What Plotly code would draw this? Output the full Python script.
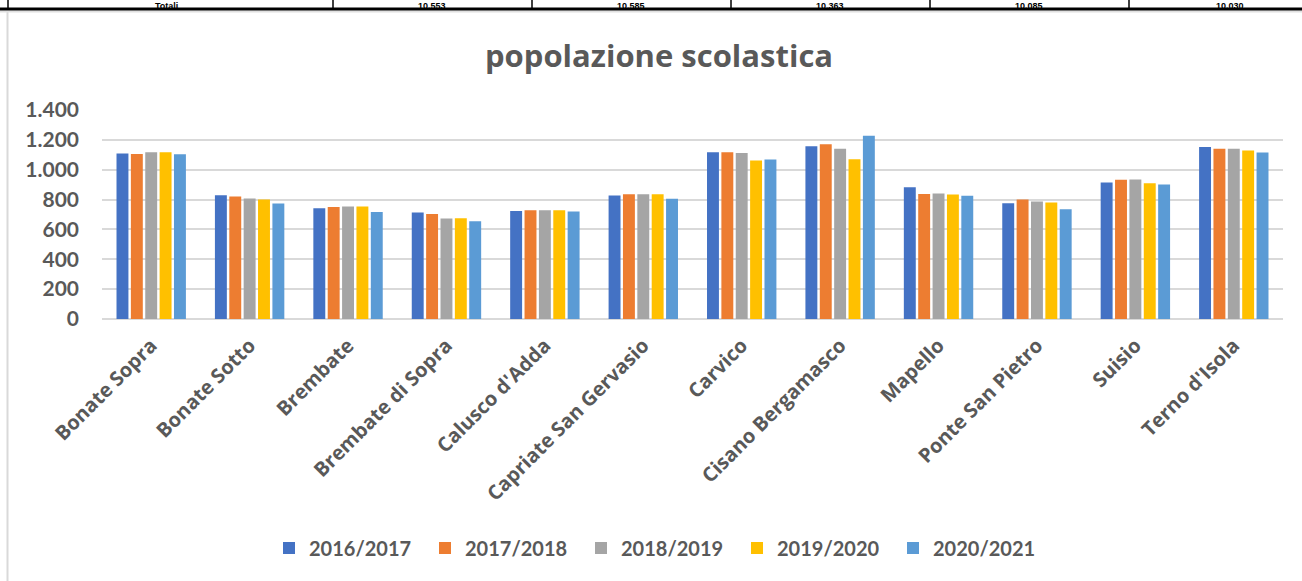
import plotly.graph_objects as go

# ---------------- data ----------------
comuni = ["Bonate Sopra", "Bonate Sotto", "Brembate", "Brembate di Sopra",
          "Calusco d'Adda", "Capriate San Gervasio", "Carvico", "Cisano Bergamasco",
          "Mapello", "Ponte San Pietro", "Suisio", "Terno d'Isola"]
anni = ["2016/2017", "2017/2018", "2018/2019", "2019/2020", "2020/2021"]
v_2016 = [1108, 829, 742, 713, 724, 827, 1117, 1157, 883, 776, 914, 1152]
v_2017 = [1106, 820, 751, 704, 729, 836, 1117, 1170, 838, 800, 932, 1141]
v_2018 = [1117, 807, 753, 673, 729, 836, 1112, 1141, 840, 787, 934, 1141]
v_2019 = [1117, 800, 753, 675, 729, 836, 1061, 1070, 834, 780, 909, 1128]
v_2020 = [1103, 773, 716, 655, 720, 805, 1068, 1228, 825, 736, 901, 1115]
serie = [v_2016, v_2017, v_2018, v_2019, v_2020]
colori = ["#4472C4", "#ED7D31", "#A5A5A5", "#FFC000", "#5B9BD5"]
y_ticks = [0, 200, 400, 600, 800, 1000, 1200, 1400]
y_tick_labels = ["0", "200", "400", "600", "800", "1.000", "1.200", "1.400"]
titolo = "popolazione scolastica"
# partially visible table row above the chart
tabella_testi = ["Totali", "10.553", "10.585", "10.363", "10.085", "10.030"]

# ---------------- layout geometry (pixels) ----------------
W, H = 1302, 581
L, R, T, B = 102, 19, 110, 262
PW, PH = W - L - R, H - T - B
TXT = "#595959"


def px_x(px):
    return (px - L) / PW


def px_y(py):
    return (H - B - py) / PH


fig = go.Figure()
for nome, vals, col in zip(anni, serie, colori):
    fig.add_trace(go.Bar(x=comuni, y=vals, name=nome,
                         marker=dict(color=col, line=dict(width=0))))

shapes = []
annotations = []
# chart title
annotations.append(dict(text=titolo, xref="paper", yref="paper",
                        x=px_x(659), y=px_y(55), xanchor="center", yanchor="middle",
                        showarrow=False,
                        font=dict(family="Open Sans", size=31, color=TXT, weight="bold")))
# chart border (left edge visible)
shapes.append(dict(type="line", xref="paper", yref="paper",
                   x0=px_x(7.5), x1=px_x(7.5), y0=px_y(12), y1=px_y(H + 5),
                   line=dict(color="#D9D9D9", width=2)))
# table fragment at the top
shapes.append(dict(type="line", xref="paper", yref="paper",
                   x0=px_x(-5), x1=px_x(W + 5), y0=px_y(11.5), y1=px_y(11.5),
                   line=dict(color="#E0E0E0", width=2)))
shapes.append(dict(type="line", xref="paper", yref="paper",
                   x0=px_x(-5), x1=px_x(W + 5), y0=px_y(9), y1=px_y(9),
                   line=dict(color="#000000", width=3)))
col_edges = [8, 333, 532, 731, 930, 1129]
for xe in col_edges:
    shapes.append(dict(type="line", xref="paper", yref="paper",
                       x0=px_x(xe), x1=px_x(xe), y0=px_y(-5), y1=px_y(9),
                       line=dict(color="#000000", width=1.5)))
centri = [166, 432, 631, 830, 1029, 1230]
for c, t in zip(centri, tabella_testi):
    annotations.append(dict(text=t, xref="paper", yref="paper",
                            x=px_x(c), y=px_y(0), xanchor="center", yanchor="top",
                            showarrow=False, borderpad=0,
                            font=dict(family="Liberation Sans", size=9, color="#000000",
                                      weight="bold")))

fig.update_layout(
    width=W, height=H,
    margin=dict(l=L, r=R, t=T, b=B, autoexpand=False),
    paper_bgcolor="white", plot_bgcolor="white",
    barmode="group", bargap=0.27, bargroupgap=0.17,
    showlegend=True,
    legend=dict(orientation="h", x=px_x(659), y=px_y(548), xanchor="center", yanchor="middle",
                font=dict(family="Lato", size=20, color=TXT, weight="bold"), entrywidth=111,
                itemwidth=30, traceorder="normal"),
    shapes=shapes, annotations=annotations,
    xaxis=dict(tickangle=-45, tickfont=dict(family="Open Sans", size=20, color=TXT, weight="bold"),
               showgrid=False, showline=False, ticks="", ticklabelstandoff=10),
    yaxis=dict(range=[0, 1400], tickvals=y_ticks, ticktext=y_tick_labels,
               tickfont=dict(family="Lato", size=21, color=TXT, weight="bold"),
               showgrid=True, gridcolor="#D9D9D9", gridwidth=2,
               zeroline=True, zerolinecolor="#D9D9D9", zerolinewidth=2,
               showline=False, ticks="", ticklabelstandoff=22),
)

fig.write_html("out.html", config={"displayModeBar": False},
               post_script="document.body.style.margin='0';")
